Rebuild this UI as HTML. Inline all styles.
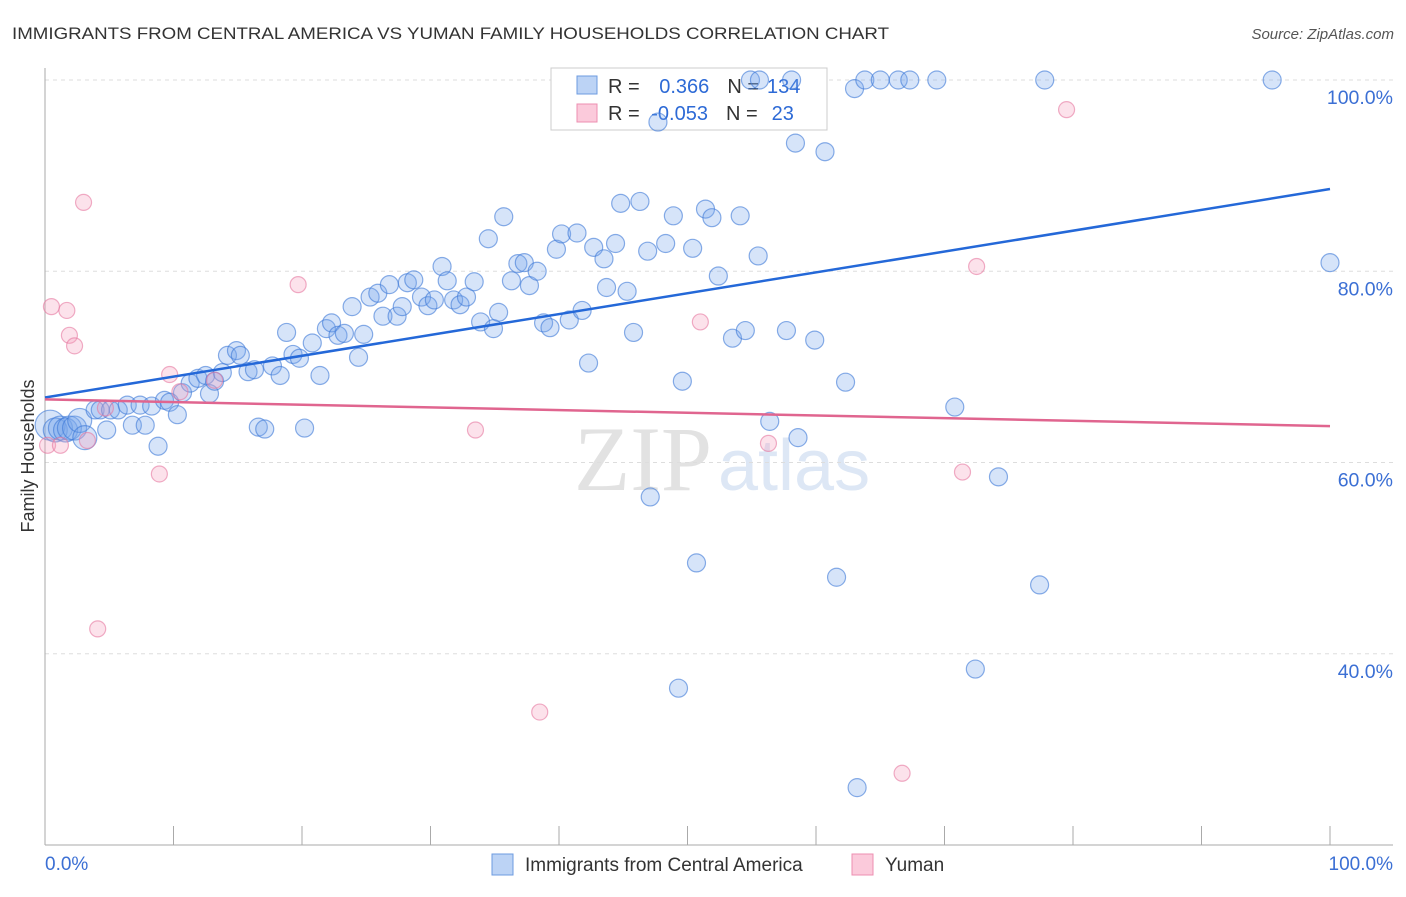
<!DOCTYPE html>
<html><head><meta charset="utf-8"><style>
body{margin:0;background:#fff;font-family:"Liberation Sans",sans-serif;}
#c{position:relative;width:1406px;height:892px;}
</style></head><body>
<div id="c">
<svg id="s" width="1406" height="892" xmlns="http://www.w3.org/2000/svg">
<text x="12" y="39" font-size="17" fill="#333" textLength="877" lengthAdjust="spacingAndGlyphs">IMMIGRANTS FROM CENTRAL AMERICA VS YUMAN FAMILY HOUSEHOLDS CORRELATION CHART</text>
<text x="1394" y="39" font-size="15" fill="#555" font-style="italic" text-anchor="end">Source: ZipAtlas.com</text>
<text x="712" y="490" font-size="92" fill="#e2e2e2" text-anchor="end" font-family="Liberation Serif,serif">ZIP</text>
<text x="718" y="490" font-size="72" fill="#dde7f5">atlas</text>
<g id="grid"></g>
<rect x="551" y="68" width="276" height="62" fill="#fff" stroke="#ccc"/>
<rect x="577" y="76" width="20" height="18" fill="#bcd3f5" stroke="#6d9be0"/>
<rect x="577" y="104" width="20" height="18" fill="#fbcadb" stroke="#ec8fb0"/>
<text x="608" y="93" font-size="20" fill="#333">R = <tspan fill="#2d6ad6" dx="14">0.366</tspan><tspan dx="18" fill="#333">N =</tspan><tspan fill="#2d6ad6" dx="8">134</tspan></text>
<text x="608" y="120" font-size="20" fill="#333">R = <tspan fill="#2d6ad6" dx="6">-0.053</tspan><tspan dx="18" fill="#333">N =</tspan><tspan fill="#2d6ad6" dx="14">23</tspan></text>
<g id="marks"></g>
<text transform="translate(34,456) rotate(-90)" font-size="18" fill="#333" text-anchor="middle">Family Households</text>
<text x="45" y="870" font-size="19" fill="#3b6fd4">0.0%</text>
<text x="1393" y="870" font-size="19" fill="#3b6fd4" text-anchor="end">100.0%</text>
<rect x="492" y="854" width="21" height="21" fill="#bcd3f5" stroke="#6d9be0"/>
<text x="525" y="871" font-size="19" fill="#333">Immigrants from Central America</text>
<rect x="852" y="854" width="21" height="21" fill="#fbcadb" stroke="#ec8fb0"/>
<text x="885" y="871" font-size="19" fill="#333">Yuman</text>
</svg></div>
<script>
const blueX=[0.4,0.8,1.2,1.6,1.9,2.3,2.7,3.1,3.9,4.3,4.8,5.1,5.7,6.4,6.8,7.4,7.8,8.3,8.8,9.3,9.7,10.3,10.7,11.3,11.9,12.5,12.8,13.2,13.8,14.2,14.9,15.2,15.8,16.3,16.6,17.1,17.7,18.3,18.8,19.3,19.8,20.2,20.8,21.4,21.9,22.3,22.8,23.3,23.9,24.4,24.8,25.3,25.9,26.3,26.8,27.4,27.8,28.2,28.7,29.3,29.8,30.3,30.9,31.3,31.8,32.3,32.8,33.4,33.9,34.5,34.9,35.3,35.7,36.3,36.8,37.3,37.7,38.3,38.8,39.3,39.8,40.2,40.8,41.4,41.8,42.3,42.7,43.5,43.7,44.4,44.8,45.3,45.8,46.3,47.1,46.9,47.7,48.3,48.9,49.3,49.6,50.4,50.7,51.4,51.9,52.4,53.5,54.1,54.5,54.9,55.5,55.6,56.4,57.7,58.1,58.4,58.6,59.9,60.7,61.6,62.3,63.0,63.2,63.8,65.0,66.4,67.3,69.4,70.8,72.4,74.2,77.4,77.8,95.5,100];
const blueY=[63.9,63.4,63.6,63.4,63.6,63.6,64.4,62.6,65.5,65.5,63.4,65.5,65.5,66.0,63.9,66.0,63.9,65.9,61.7,66.5,66.3,65.0,67.3,68.3,68.8,69.1,67.2,68.5,69.4,71.2,71.7,71.2,69.5,69.7,63.7,63.5,70.1,69.1,73.6,71.3,70.9,63.6,72.5,69.1,74.0,74.6,73.3,73.5,76.3,71.0,73.4,77.3,77.7,75.3,78.6,75.3,76.3,78.8,79.1,77.3,76.4,77.0,80.5,79.0,77.0,76.5,77.3,78.9,74.7,83.4,74.0,75.7,85.7,79.0,80.8,80.9,78.5,80.0,74.6,74.1,82.3,83.9,74.9,84.0,75.9,70.4,82.5,81.3,78.3,82.9,87.1,77.9,73.6,87.3,56.4,82.1,95.6,82.9,85.8,36.4,68.5,82.4,49.5,86.5,85.6,79.5,73.0,85.8,73.8,100,81.6,100,64.3,73.8,100,93.4,62.6,72.8,92.5,48.0,68.4,99.1,26.0,100,100,100,100,100,65.8,38.4,58.5,47.2,100,100,80.9];
const pinkX=[0.2,0.5,1.2,1.7,1.9,2.3,3.0,3.3,4.1,4.7,8.9,9.7,10.5,13.2,19.7,33.5,38.5,51.0,56.3,72.5,79.5,66.7,71.4];
const pinkY=[61.8,76.3,61.8,75.9,73.3,72.2,87.2,62.3,42.6,65.7,58.8,69.2,67.4,68.6,78.6,63.4,33.9,74.7,62.0,80.5,96.9,27.5,59.0];
const blueTrend=[66.8,88.6];
const pinkTrend=[66.6,63.8];
const yTicks=[100,80,60,40];
const xTicks=[0,10,20,30,40,50,60,70,80,90,100];
const NS="http://www.w3.org/2000/svg";
const sx=v=>45+v*12.85, sy=v=>80+(100-v)*9.5625;
const grid=document.getElementById('grid'), marks=document.getElementById('marks');
function mk(tag,at,parent){const e=document.createElementNS(NS,tag);for(const k in at)e.setAttribute(k,at[k]);parent.appendChild(e);return e;}
yTicks.forEach(t=>{
 const l=mk('line',{x1:45,x2:1393,y1:sy(t),y2:sy(t),stroke:'#ddd','stroke-dasharray':'4,4'},grid);
 
 
 const tx=mk('text',{x:1393,y:sy(t)+24,'font-size':19.5,fill:'#3b6fd4','text-anchor':'end'},grid);
 tx.textContent=t.toFixed(1)+'%';
 
 
});
const ax=mk('line',{x1:45,x2:1393,y1:845,y2:845,stroke:'#aaa'},grid);


const ay=mk('line',{x1:45,x2:45,y1:68,y2:845,stroke:'#aaa'},grid);


xTicks.forEach(t=>{
 const l=mk('line',{x1:sx(t),x2:sx(t),y1:826,y2:845,stroke:'#aaa'},grid);
 
 
});
blueX.forEach((x,i)=>{
 const r=i<8?(i==0?15:12):9;
 const c=mk('circle',{cx:sx(x),cy:sy(blueY[i]),r:r,fill:'rgba(120,165,235,0.3)',stroke:'rgba(60,120,215,0.6)','stroke-width':1.2},marks);
 
 
});
pinkX.forEach((x,i)=>{
 const c=mk('circle',{cx:sx(x),cy:sy(pinkY[i]),r:8,fill:'rgba(245,160,190,0.3)',stroke:'rgba(230,120,160,0.6)','stroke-width':1.2},marks);
 
 
});
const bl=mk('line',{x1:sx(0),x2:sx(100),y1:sy(blueTrend[0]),y2:sy(blueTrend[1]),stroke:'#2468d8','stroke-width':2.5},marks);


const pl=mk('line',{x1:sx(0),x2:sx(100),y1:sy(pinkTrend[0]),y2:sy(pinkTrend[1]),stroke:'#e0658f','stroke-width':2.5},marks);


</script>
</body></html>
